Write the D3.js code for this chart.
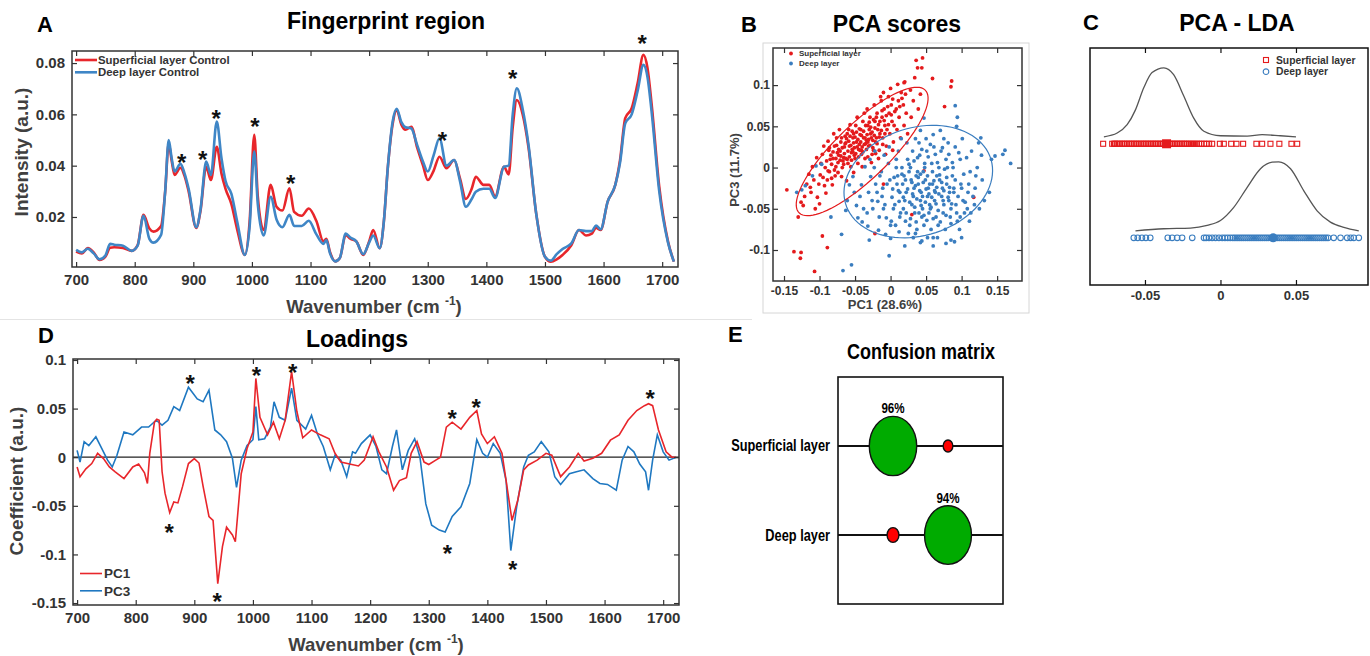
<!DOCTYPE html>
<html>
<head>
<meta charset="utf-8">
<title>Fingerprint region, PCA and confusion matrix</title>
<script src="https://cdn.jsdelivr.net/npm/d3@7"></script>
<style>
  body { margin: 0; background: #fff; }
  svg { display: block; font-family: "Liberation Sans", Arial, sans-serif; }
  .title { font-size: 23px; font-weight: bold; text-anchor: middle; fill: #000; }
  .letter { font-size: 22px; font-weight: bold; fill: #000; }
  .label { font-weight: bold; fill: #404040; text-anchor: middle; }
  .star { font-size: 24px; font-weight: bold; text-anchor: middle; fill: #111; }
  .narrow { font-weight: bold; fill: #000; }
</style>
</head>
<body>
<svg id="fig" width="1370" height="656"></svg>
<script>
// ---------- data ----------

// panel A: mean spectra (intensity, a.u.)
var wavenumbersA = [700,710,720,730,740,750,758,765,780,795,805,815,825,832,845,852,858,863,868,878,885,892,905,912,922,930,940,948,955,965,975,988,996,1004,1010,1020,1032,1042,1052,1064,1072,1085,1097,1110,1122,1127,1133,1142,1150,1160,1168,1178,1190,1200,1207,1218,1225,1232,1240,1247,1255,1262,1272,1282,1292,1300,1310,1320,1332,1345,1355,1365,1375,1382,1395,1405,1415,1430,1438,1445,1452,1462,1472,1485,1500,1510,1520,1530,1545,1558,1570,1580,1587,1595,1607,1620,1628,1637,1648,1658,1668,1675,1682,1695,1710,1720];
var superficialSpectrum = [0.0065,0.0058,0.0079,0.0062,0.0032,0.0045,0.0080,0.0082,0.0079,0.0068,0.0090,0.0208,0.0155,0.0143,0.0165,0.0300,0.0487,0.0420,0.0364,0.0392,0.0360,0.0300,0.0157,0.0220,0.0396,0.0344,0.0474,0.0370,0.0310,0.0250,0.0150,0.0052,0.0180,0.0520,0.0280,0.0149,0.0325,0.0240,0.0225,0.0312,0.0220,0.0205,0.0233,0.0184,0.0105,0.0115,0.0065,0.0027,0.0040,0.0130,0.0115,0.0105,0.0052,0.0105,0.0149,0.0078,0.0180,0.0396,0.0560,0.0617,0.0560,0.0540,0.0552,0.0470,0.0400,0.0344,0.0380,0.0435,0.0390,0.0422,0.0350,0.0270,0.0310,0.0357,0.0325,0.0325,0.0280,0.0396,0.0366,0.0550,0.0656,0.0600,0.0470,0.0214,0.0045,0.0026,0.0035,0.0052,0.0090,0.0149,0.0128,0.0135,0.0158,0.0149,0.0260,0.0325,0.0420,0.0585,0.0624,0.0720,0.0832,0.0780,0.0640,0.0318,0.0104,0.0026];
var deepSpectrum = [0.0072,0.0062,0.0076,0.0058,0.0035,0.0050,0.0095,0.0092,0.0088,0.0068,0.0088,0.0205,0.0115,0.0100,0.0130,0.0300,0.0500,0.0430,0.0377,0.0407,0.0370,0.0310,0.0160,0.0225,0.0416,0.0364,0.0572,0.0430,0.0340,0.0290,0.0180,0.0052,0.0160,0.0455,0.0250,0.0128,0.0279,0.0190,0.0160,0.0208,0.0165,0.0165,0.0185,0.0132,0.0095,0.0110,0.0060,0.0027,0.0040,0.0135,0.0120,0.0105,0.0055,0.0100,0.0128,0.0078,0.0180,0.0396,0.0570,0.0622,0.0570,0.0550,0.0545,0.0480,0.0415,0.0377,0.0440,0.0507,0.0400,0.0422,0.0340,0.0240,0.0270,0.0298,0.0310,0.0310,0.0274,0.0396,0.0400,0.0600,0.0702,0.0620,0.0480,0.0214,0.0045,0.0030,0.0055,0.0075,0.0097,0.0149,0.0145,0.0145,0.0167,0.0152,0.0260,0.0325,0.0410,0.0565,0.0600,0.0690,0.0793,0.0745,0.0610,0.0300,0.0100,0.0026];
var peakMarksA = [[880,0.0435],[916,0.0445],[939,0.0605],[1005,0.0574],[1066,0.0352],[1325,0.0520],[1445,0.0762],[1666,0.0899]];
var wavenumberTicks = [700,800,900,1000,1100,1200,1300,1400,1500,1600,1700];
var intensityTicks = [0.02,0.04,0.06,0.08];

// panel B: PCA scores [PC1, PC3]
var superficialScores = [
  [-0.121,-0.035],[-0.118,-0.02],[-0.123,-0.046],[-0.115,-0.008],
  [-0.112,-0.03],[-0.108,-0.015],[-0.11,0.001],[-0.106,-0.05],[-0.113,-0.024],[-0.104,0.012],
  [-0.101,-0.02],[-0.098,0.005],[-0.103,-0.036],[-0.096,0.016],[-0.099,-0.009],[-0.094,0.026],[-0.1,-0.044],
  [-0.092,0.0],[-0.089,-0.015],[-0.087,0.021],[-0.091,-0.031],[-0.085,0.01],[-0.088,0.032],[-0.086,-0.005],[-0.084,0.015],
  [-0.081,0.011],[-0.078,-0.01],[-0.079,0.026],[-0.076,0.036],[-0.082,-0.021],[-0.077,0.001],[-0.075,0.018],[-0.08,0.041],[-0.074,0.006],
  [-0.071,0.02],[-0.068,0.0],[-0.07,0.031],[-0.066,0.012],[-0.072,0.046],[-0.069,-0.011],[-0.065,0.025],[-0.067,0.008],[-0.064,0.038],[-0.073,0.015],
  [-0.061,0.01],[-0.058,0.026],[-0.062,0.035],[-0.056,0.001],[-0.059,0.046],[-0.055,0.018],[-0.063,0.03],[-0.057,0.052],[-0.06,0.005],[-0.054,0.022],[-0.062,-0.016],
  [-0.051,0.015],[-0.048,0.031],[-0.052,0.041],[-0.046,0.005],[-0.049,0.051],[-0.045,0.022],[-0.053,0.036],[-0.047,0.061],[-0.05,0.011],[-0.044,0.028],[-0.052,-0.006],
  [-0.041,0.021],[-0.038,0.036],[-0.042,0.046],[-0.036,0.011],[-0.039,0.056],[-0.035,0.029],[-0.043,0.04],[-0.037,0.066],[-0.04,0.001],[-0.034,0.033],[-0.041,0.016],
  [-0.031,0.026],[-0.028,0.041],[-0.032,0.051],[-0.026,0.016],[-0.029,0.061],[-0.025,0.033],[-0.033,0.071],[-0.027,0.006],[-0.03,0.046],[-0.024,0.021],[-0.032,0.031],
  [-0.021,0.031],[-0.018,0.046],[-0.022,0.056],[-0.016,0.021],[-0.019,0.066],[-0.015,0.041],[-0.023,0.076],[-0.017,0.011],[-0.02,0.036],[-0.014,0.086],
  [-0.011,0.036],[-0.008,0.051],[-0.012,0.061],[-0.006,0.026],[-0.009,0.071],[-0.005,0.046],[-0.013,0.081],[-0.007,0.016],[-0.01,0.091],
  [-0.001,0.041],[0.002,0.056],[-0.002,0.066],[0.004,0.031],[0.001,0.076],[0.005,0.051],[-0.003,0.086],[0.003,0.021],[0.0,0.096],
  [0.009,0.046],[0.012,0.061],[0.008,0.071],[0.014,0.036],[0.011,0.081],[0.015,0.091],[0.01,0.101],
  [0.019,0.051],[0.022,0.066],[0.018,0.076],[0.024,0.041],[0.021,0.089],[0.02,0.104],
  [0.029,0.061],[0.032,0.081],[0.028,0.094],[0.034,0.109],
  [0.039,0.071],[0.042,0.089],[0.038,0.121],
  [-0.095,-0.012],[-0.093,-0.022],[-0.09,0.008],[-0.088,-0.004],[-0.086,0.024],[-0.083,-0.013],[-0.083,0.004],[-0.081,0.019],[-0.079,-0.003],[-0.077,0.011],
  [-0.076,0.027],[-0.074,-0.006],[-0.073,0.022],[-0.071,0.009],[-0.07,0.014],[-0.069,0.036],[-0.068,0.024],[-0.066,0.004],[-0.065,0.017],[-0.064,0.029],
  [-0.063,0.011],[-0.061,0.041],[-0.06,0.02],[-0.059,0.032],[-0.058,0.013],[-0.057,0.038],[-0.056,0.027],[-0.055,0.009],[-0.054,0.044],[-0.053,0.019],
  [-0.052,0.03],[-0.051,0.024],[-0.05,0.037],[-0.049,0.017],[-0.048,0.043],[-0.047,0.025],[-0.046,0.034],[-0.045,0.013],[-0.044,0.047],[-0.043,0.021],
  [-0.042,0.031],[-0.041,0.039],[-0.04,0.025],[-0.039,0.019],[-0.038,0.044],[-0.037,0.028],[-0.036,0.036],[-0.035,0.051],[-0.034,0.022],[-0.033,0.04],
  [-0.032,0.013],[-0.031,0.034],[-0.03,0.055],[-0.029,0.027],[-0.028,0.049],[-0.027,0.036],[-0.026,0.043],[-0.025,0.024],[-0.024,0.058],[-0.023,0.039],
  [-0.022,0.048],[-0.021,0.017],[-0.02,0.061],[-0.019,0.029],[-0.017,0.052],[-0.016,0.037],[-0.015,0.056],[-0.013,0.045],[-0.012,0.069],[-0.011,0.028],
  [-0.009,0.057],[-0.008,0.041],[-0.006,0.063],[-0.004,0.074],[-0.003,0.052],[0.001,0.064],[0.003,0.083],[0.006,0.068],[0.013,0.074],[0.016,0.084],
  [0.036,0.13],[0.045,0.133],[0.044,0.121],[0.059,0.108],[0.086,0.105],[0.085,0.098],[0.076,0.074],[0.019,0.103],
  [-0.146,-0.027],[-0.136,-0.102],[-0.126,-0.103],[-0.127,-0.11],[-0.107,-0.126],[-0.089,-0.097],[-0.096,-0.083],[-0.126,-0.042],
  [0.117,-0.036],[0.03,-0.057],[-0.022,-0.08],[0.047,-0.004],[-0.01,-0.02],[-0.13,-0.06]
];
var deepScores = [
  [-0.061,-0.04],[-0.058,-0.021],[-0.063,-0.052],
  [-0.051,-0.03],[-0.048,-0.046],[-0.053,-0.011],[-0.046,-0.061],
  [-0.041,-0.021],[-0.038,-0.05],[-0.043,-0.035],[-0.036,0.001],[-0.04,-0.066],
  [-0.031,-0.03],[-0.028,-0.011],[-0.033,-0.055],[-0.026,-0.04],[-0.029,0.01],[-0.032,-0.071],
  [-0.021,-0.02],[-0.018,-0.041],[-0.023,0.0],[-0.016,-0.06],[-0.019,-0.03],[-0.022,0.02],[-0.017,-0.076],
  [-0.011,-0.025],[-0.008,-0.045],[-0.013,-0.005],[-0.006,-0.061],[-0.009,0.015],[-0.012,-0.035],[-0.007,-0.081],
  [-0.001,-0.015],[0.002,-0.036],[-0.003,0.005],[0.004,-0.05],[0.001,-0.065],[-0.002,0.025],[0.003,-0.026],[0.0,-0.086],
  [0.009,-0.02],[0.012,-0.041],[0.008,0.0],[0.014,-0.055],[0.011,0.02],[0.007,-0.07],[0.013,-0.03],[0.01,-0.01],[0.015,0.035],
  [0.019,-0.01],[0.022,-0.03],[0.018,-0.05],[0.024,0.01],[0.021,-0.065],[0.017,-0.02],[0.023,0.03],[0.02,-0.04],[0.025,-0.08],[0.016,0.0],
  [0.029,-0.015],[0.032,-0.035],[0.028,0.0],[0.034,-0.055],[0.031,0.02],[0.027,-0.07],[0.033,-0.025],[0.03,-0.045],[0.035,0.035],[0.026,-0.005],[0.032,-0.085],
  [0.039,-0.02],[0.042,-0.04],[0.038,-0.005],[0.044,-0.06],[0.041,0.015],[0.037,-0.075],[0.043,-0.03],[0.04,0.03],[0.045,-0.05],[0.036,-0.01],[0.042,0.045],
  [0.049,-0.015],[0.052,-0.035],[0.048,0.0],[0.054,-0.055],[0.051,0.02],[0.047,-0.07],[0.053,-0.025],[0.05,0.035],[0.055,-0.045],[0.046,-0.005],[0.052,-0.085],
  [0.059,-0.02],[0.062,-0.04],[0.058,0.005],[0.064,-0.06],[0.061,0.025],[0.057,-0.075],[0.063,-0.03],[0.06,0.04],[0.065,-0.01],[0.056,-0.05],
  [0.069,-0.015],[0.072,-0.035],[0.068,0.0],[0.074,-0.055],[0.071,0.02],[0.067,-0.07],[0.073,-0.025],[0.07,0.045],[0.075,-0.045],[0.066,-0.085],
  [0.079,-0.02],[0.082,-0.04],[0.078,0.01],[0.084,-0.06],[0.081,0.03],[0.077,-0.075],[0.083,-0.03],[0.08,0.0],[0.085,-0.05],
  [0.089,-0.025],[0.092,-0.045],[0.088,0.0],[0.094,-0.065],[0.091,0.025],[0.087,-0.01],[0.093,0.05],[0.09,-0.09],
  [0.099,-0.02],[0.102,-0.04],[0.098,0.01],[0.104,-0.055],[0.101,0.035],[0.097,-0.075],
  [0.109,-0.03],[0.112,-0.005],[0.108,-0.05],[0.114,0.02],[0.111,-0.065],
  [0.119,-0.025],[0.122,0.0],[0.118,-0.045],[0.124,0.03],
  [0.129,-0.015],[0.132,-0.04],[0.128,0.015],[0.127,0.036],
  [0.139,-0.03],[0.142,0.01],[0.147,0.014],
  [0.005,-0.012],[0.006,-0.045],[0.011,-0.028],[0.013,-0.06],[0.016,-0.008],[0.018,-0.036],[0.021,-0.015],[0.022,-0.055],[0.024,-0.026],[0.026,0.004],
  [0.027,-0.042],[0.028,-0.062],[0.03,-0.018],[0.031,-0.032],[0.033,0.008],[0.034,-0.048],[0.035,-0.022],[0.036,-0.066],[0.037,-0.038],[0.038,0.012],
  [0.039,-0.012],[0.04,-0.055],[0.041,-0.028],[0.042,-0.008],[0.043,-0.046],[0.044,0.022],[0.045,-0.035],[0.046,-0.018],[0.047,-0.058],[0.048,0.005],
  [0.049,-0.042],[0.05,-0.026],[0.051,-0.064],[0.052,-0.01],[0.053,0.013],[0.054,-0.032],[0.055,-0.02],[0.056,0.028],[0.057,-0.048],[0.058,-0.036],
  [0.059,-0.005],[0.06,-0.062],[0.061,-0.016],[0.062,-0.028],[0.063,0.016],[0.064,-0.044],[0.065,-0.024],[0.066,0.006],[0.067,-0.052],[0.068,-0.032],
  [0.069,-0.009],[0.07,-0.066],[0.072,-0.018],[0.073,0.024],[0.074,-0.04],[0.075,-0.028],[0.076,-0.002],[0.078,-0.058],[0.079,-0.012],[0.081,-0.036],
  [0.082,0.016],[0.083,-0.024],[0.085,-0.068],[0.086,-0.044],[0.087,0.006],[0.089,-0.03],[0.091,-0.015],[0.093,-0.055],[0.095,-0.035],[0.096,0.018],
  [0.098,-0.06],[0.1,-0.025],[0.103,-0.008],[0.105,-0.042],[0.107,0.012],[0.11,-0.02],[0.113,-0.055],[0.116,-0.035],[0.12,-0.01],[0.125,-0.05],
  [-0.005,-0.02],[-0.01,-0.05],[0.0,-0.07],[-0.015,-0.01],[-0.025,-0.05],[0.008,0.01],[0.012,-0.078],[0.035,-0.08],[0.06,-0.085],[0.075,0.035],
  [0.169,0.005],[0.161,0.021],[0.158,0.016],[0.091,0.075],[0.094,0.061],[0.047,0.06],[-0.067,-0.125],[-0.055,-0.118],[-0.002,-0.107],[-0.069,-0.081],
  [-0.084,-0.06],[-0.125,-0.027],[-0.132,-0.03],[-0.097,0.004],[0.044,-0.089],[0.078,-0.092],[0.042,-0.091],[0.085,-0.088],[-0.03,-0.088],[0.02,-0.095],
  [0.06,-0.095],[0.1,-0.085],[-0.11,-0.01],[-0.12,-0.022],[-0.105,0.002]
];
// confidence ellipses: [centre PC1, centre PC3, semi-major, semi-minor, angle in degrees]
var superficialEllipse = [-0.040, 0.0195, 0.116, 0.035, 39];
var deepEllipse = [0.039, -0.017, 0.106, 0.066, 12];
var pc1Ticks = [-0.15,-0.1,-0.05,0,0.05,0.1,0.15];
var pc3Ticks = [-0.1,-0.05,0,0.05,0.1];

// panel C: PCA-LDA scores
var ldaGroups = ["Superficial layer", "Deep layer"];
var superficialLda = [-0.0777,-0.0717,-0.0705,-0.0698,-0.0688,-0.0676,-0.0665,-0.0652,-0.0641,-0.063,-0.0618,-0.0606,-0.0595,-0.0584,-0.0572,-0.0561,-0.055,-0.0538,-0.0527,-0.0515,-0.0504,-0.0493,-0.0482,-0.047,-0.0459,-0.0448,-0.0436,-0.0425,-0.0414,-0.0402,-0.0391,-0.038,-0.0369,-0.0357,-0.0346,-0.0334,-0.0323,-0.0312,-0.03,-0.0289,-0.0278,-0.0266,-0.0255,-0.0243,-0.0232,-0.022,-0.0208,-0.0195,-0.0182,-0.017,-0.0156,-0.0141,-0.0126,-0.0109,-0.0093,-0.0075,-0.0055,-0.0004,0.0022,0.0071,0.0106,0.015,0.0238,0.0276,0.0331,0.039,0.047,0.0508];
var deepLda = [-0.0574,-0.0548,-0.052,-0.0494,-0.0465,-0.0349,-0.032,-0.0287,-0.0254,-0.0187,-0.0109,-0.0095,-0.0076,-0.0055,-0.0033,-0.001,0.0012,0.003,0.0048,0.0065,0.0082,0.0096,0.011,0.0124,0.0138,0.0152,0.0166,0.018,0.0194,0.0208,0.0222,0.0236,0.025,0.0264,0.0278,0.0292,0.0306,0.032,0.0334,0.0348,0.0362,0.0376,0.039,0.0404,0.0418,0.0432,0.0446,0.046,0.0474,0.0488,0.0502,0.0516,0.053,0.0544,0.0558,0.0572,0.0586,0.06,0.0614,0.0628,0.0642,0.0656,0.067,0.0684,0.0698,0.0712,0.075,0.0795,0.0839,0.0862,0.0883,0.0916];
var ldaMedians = [-0.0357, 0.0349];
// relative density [score, density / peak]
var superficialDensity = [[-0.0772,0],[-0.0684,0.054],[-0.0618,0.175],[-0.0563,0.39],[-0.0508,0.71],[-0.0453,0.93],[-0.0375,1.0],[-0.031,0.9],[-0.0243,0.59],[-0.0177,0.27],[-0.011,0.08],[0,0.015],[0.0177,0.01],[0.0276,0.03],[0.0397,0.015],[0.05,0]];
var deepDensity = [[-0.0563,0],[-0.0375,0.03],[-0.0199,0.04],[-0.0088,0.08],[0,0.15],[0.0088,0.34],[0.0177,0.63],[0.0265,0.9],[0.0342,0.995],[0.0386,1.0],[0.0464,0.9],[0.0552,0.58],[0.064,0.29],[0.0728,0.126],[0.0817,0.05],[0.0916,0]];
var ldaTicks = [-0.05, 0, 0.05];

// panel D: loadings [wavenumber, coefficient]
var pc1Loadings = [[700,-0.010],[705,-0.020],[715,-0.012],[725,-0.0065],[735,0.004],[745,-0.0014],[755,-0.010],[765,-0.015],[780,-0.022],[795,-0.010],[805,-0.007],[815,-0.016],[820,-0.027],[824,0.004],[832,0.036],[836,0.039],[840,0.038],[845,-0.015],[850,-0.037],[858,-0.057],[865,-0.046],[872,-0.047],[880,-0.030],[890,-0.0065],[900,-0.0014],[908,-0.006],[915,-0.030],[925,-0.061],[932,-0.065],[940,-0.130],[948,-0.092],[955,-0.072],[965,-0.080],[970,-0.087],[980,-0.017],[990,0.009],[1000,0.026],[1005,0.081],[1012,0.041],[1025,0.023],[1035,0.036],[1045,0.019],[1055,0.038],[1066,0.088],[1075,0.047],[1085,0.020],[1100,0.028],[1115,0.023],[1130,0.019],[1140,0.004],[1150,-0.005],[1165,-0.007],[1180,-0.009],[1190,-0.003],[1205,0.021],[1215,0.0055],[1228,-0.010],[1240,-0.034],[1250,-0.024],[1262,-0.021],[1270,0.004],[1280,0.016],[1292,-0.005],[1300,-0.0075],[1312,-0.003],[1320,0.000],[1330,0.031],[1340,0.036],[1355,0.029],[1370,0.041],[1382,0.048],[1390,0.024],[1400,0.014],[1412,0.021],[1425,0.004],[1432,-0.024],[1442,-0.065],[1452,-0.044],[1462,-0.013],[1470,-0.008],[1485,-0.003],[1500,0.004],[1510,0.002],[1525,-0.020],[1540,-0.010],[1555,0.004],[1565,-0.004],[1580,-0.001],[1595,0.004],[1610,0.0175],[1625,0.023],[1640,0.038],[1655,0.048],[1668,0.053],[1675,0.055],[1682,0.053],[1692,0.028],[1705,0.0055],[1715,0.000],[1722,0.000]];
var pc3Loadings = [[700,0.007],[705,-0.005],[712,0.016],[720,0.012],[732,0.021],[742,0.009],[752,-0.003],[760,-0.010],[768,0.002],[780,0.026],[795,0.023],[810,0.031],[822,0.031],[835,0.038],[845,0.033],[855,0.038],[865,0.052],[875,0.048],[890,0.072],[905,0.060],[915,0.057],[925,0.069],[935,0.028],[945,0.023],[955,0.016],[965,-0.001],[972,-0.031],[980,-0.003],[990,0.012],[1000,0.018],[1005,0.052],[1010,0.018],[1020,0.019],[1030,0.031],[1036,0.057],[1045,0.041],[1055,0.038],[1066,0.071],[1075,0.038],[1090,0.029],[1100,0.043],[1110,0.024],[1120,0.011],[1132,-0.013],[1140,0.002],[1150,-0.003],[1160,-0.020],[1170,0.0055],[1175,0.004],[1185,0.014],[1200,0.023],[1210,0.011],[1220,-0.013],[1228,-0.017],[1238,0.011],[1245,0.028],[1255,-0.013],[1265,0.007],[1276,0.019],[1285,0.000],[1295,-0.048],[1305,-0.070],[1318,-0.075],[1328,-0.077],[1340,-0.061],[1355,-0.051],[1370,-0.027],[1382,0.018],[1392,0.004],[1400,0.000],[1410,0.014],[1422,0.004],[1432,-0.024],[1440,-0.096],[1450,-0.051],[1462,-0.010],[1470,0.002],[1480,0.0055],[1492,0.016],[1505,0.0055],[1515,-0.020],[1525,-0.028],[1540,-0.017],[1552,-0.015],[1565,-0.013],[1580,-0.022],[1592,-0.027],[1605,-0.028],[1620,-0.034],[1630,-0.003],[1640,0.011],[1650,0.0055],[1660,-0.007],[1670,-0.015],[1675,-0.034],[1682,-0.003],[1690,0.023],[1700,0.0055],[1710,-0.003],[1722,0.000]];
var peakMarksD = [[893,0.0812],[1006,0.0897],[1068,0.0931],[857,-0.0715],[939,-0.1427],[1340,0.0452],[1381,0.0571],[1332,-0.0937],[1443,-0.1101],[1678,0.0663]];
var coefficientTicks = [-0.15,-0.1,-0.05,0,0.05,0.1];

// panel E: confusion matrix (% of true class)
var cmClasses = ["Superficial layer", "Deep layer"];
var cmValues = [[96, 4], [6, 94]];

// ---------- colours ----------
var red = "#e8262b";
var blueA = "#3f86c6";
var blueD = "#1f78c1";
var redPts = "#e41a1c";
var bluePts = "#3a7dbf";

var svg = d3.select("#fig");

// MATLAB style box with inward ticks on all sides
function boxAxes(g, x, y, xTicks, yTicks, xFmt, yFmt, fontSize, pad, ypad, frameColor) {
    var xr = x.range(), yr = y.range();
    g.append("g")
        .attr("transform", "translate(0," + yr[0] + ")")
        .call(d3.axisBottom(x).tickValues(xTicks).tickFormat(xFmt).tickSize(-5).tickPadding(pad));
    g.append("g")
        .attr("transform", "translate(0," + yr[1] + ")")
        .call(d3.axisTop(x).tickValues(xTicks).tickFormat("").tickSize(-5));
    if (yTicks) {
        g.append("g")
            .attr("transform", "translate(" + xr[0] + ",0)")
            .call(d3.axisLeft(y).tickValues(yTicks).tickFormat(yFmt).tickSize(-5).tickPadding(ypad));
        g.append("g")
            .attr("transform", "translate(" + xr[1] + ",0)")
            .call(d3.axisRight(y).tickValues(yTicks).tickFormat("").tickSize(-5));
    }
    g.selectAll(".domain").remove();
    g.selectAll(".tick line").attr("stroke", frameColor).attr("stroke-width", 1.2);
    g.selectAll(".tick text")
        .attr("fill", "#333")
        .style("font-family", "'Liberation Sans', Arial, sans-serif")
        .style("font-size", fontSize + "px")
        .style("font-weight", "bold");
    g.append("rect")
        .attr("x", xr[0]).attr("y", yr[1])
        .attr("width", xr[1] - xr[0]).attr("height", yr[0] - yr[1])
        .attr("fill", "none")
        .attr("stroke", frameColor)
        .attr("stroke-width", 1.5);
}

function plainNum(d) { return String(d); }

function wavenumberLabel(x, y) {
    var t = svg.append("text").attr("class", "label")
        .attr("x", x).attr("y", y).style("font-size", "18.5px");
    t.append("tspan").text("Wavenumber (cm ");
    t.append("tspan").attr("dy", -8).style("font-size", "12px").text("-1");
    t.append("tspan").attr("dy", 8).text(")");
}

function panelText(cls, x, y, txt) {
    return svg.append("text").attr("class", cls).attr("x", x).attr("y", y).text(txt);
}

// condensed bold text (the original uses a narrow face)
function narrowText(parent, x, y, txt, size, anchor) {
    return parent.append("g")
        .attr("transform", "translate(" + x + "," + y + ") scale(0.8,1)")
        .append("text").attr("class", "narrow")
        .attr("text-anchor", anchor)
        .style("font-size", size + "px")
        .text(txt);
}

// separator line under the top row
svg.append("line")
    .attr("x1", 0).attr("x2", 752)
    .attr("y1", 319.5).attr("y2", 319.5)
    .attr("stroke", "#e4e4e4");

// ---------- panel A ----------
var xA = d3.scaleLinear().domain([693, 1727]).range([72, 678]);
var yA = d3.scaleLinear().domain([0.0005, 0.0847]).range([267, 51]);
var gA = svg.append("g");

var lineA = d3.line()
    .x(function(d, i) { return xA(wavenumbersA[i]); })
    .y(function(d) { return yA(d); })
    .curve(d3.curveMonotoneX);

gA.append("path").attr("d", lineA(superficialSpectrum))
    .attr("fill", "none").attr("stroke", red).attr("stroke-width", 2.6);
gA.append("path").attr("d", lineA(deepSpectrum))
    .attr("fill", "none").attr("stroke", blueA).attr("stroke-width", 2.6);

gA.selectAll(".star").data(peakMarksA).enter()
    .append("text").attr("class", "star")
    .attr("x", function(d) { return xA(d[0]); })
    .attr("y", function(d) { return yA(d[1]); })
    .attr("dy", "0.58em")
    .text("*");

boxAxes(gA.append("g"), xA, yA, wavenumberTicks, intensityTicks, d3.format("d"), d3.format(".2f"), 15, 7, 7, "#333");

// legend A
var legendA = gA.append("g").selectAll("g")
    .data([["Superficial layer Control", red], ["Deep layer Control", blueA]])
    .enter().append("g")
    .attr("transform", function(d, i) { return "translate(75," + (60 + i * 12.3) + ")"; });
legendA.append("line").attr("x1", 0).attr("x2", 22)
    .attr("stroke", function(d) { return d[1]; }).attr("stroke-width", 2.6);
legendA.append("text").attr("x", 23).attr("dy", "0.35em")
    .style("font-size", "11.4px").style("font-weight", "bold").attr("fill", "#333")
    .text(function(d) { return d[0]; });

panelText("letter", 37, 32, "A");
panelText("title", 386, 29, "Fingerprint region");
svg.append("text").attr("class", "label")
    .attr("transform", "translate(28,152) rotate(-90)")
    .style("font-size", "19px").text("Intensity (a.u.)");
wavenumberLabel(374, 313);

// ---------- panel B ----------
var xB = d3.scaleLinear().domain([-0.1655, 0.185]).range([773, 1022]);
var yB = d3.scaleLinear().domain([-0.1376, 0.145]).range([281, 48]);
var gB = svg.append("g");

gB.append("rect").attr("x", 763).attr("y", 43).attr("width", 266).attr("height", 270)
    .attr("fill", "none").attr("stroke", "#d6d6d6");

function ellipsePath(e) {
    var a = e[4] * Math.PI / 180, pts = d3.range(0, 361, 4).map(function(t) {
        var r = t * Math.PI / 180;
        var u = e[2] * Math.cos(r), v = e[3] * Math.sin(r);
        return [e[0] + u * Math.cos(a) - v * Math.sin(a), e[1] + u * Math.sin(a) + v * Math.cos(a)];
    });
    return d3.line().x(function(d) { return xB(d[0]); }).y(function(d) { return yB(d[1]); })(pts);
}

gB.selectAll(".sup").data(superficialScores).enter()
    .append("circle").attr("class", "sup")
    .attr("cx", function(d) { return xB(d[0]); })
    .attr("cy", function(d) { return yB(d[1]); })
    .attr("r", 1.9).attr("fill", redPts);
gB.selectAll(".deep").data(deepScores).enter()
    .append("circle").attr("class", "deep")
    .attr("cx", function(d) { return xB(d[0]); })
    .attr("cy", function(d) { return yB(d[1]); })
    .attr("r", 1.9).attr("fill", bluePts);

gB.append("path").attr("d", ellipsePath(superficialEllipse))
    .attr("fill", "none").attr("stroke", redPts).attr("stroke-width", 1.2);
gB.append("path").attr("d", ellipsePath(deepEllipse))
    .attr("fill", "none").attr("stroke", bluePts).attr("stroke-width", 1.2);

boxAxes(gB.append("g"), xB, yB, pc1Ticks, pc3Ticks, plainNum, plainNum, 12, 5, 3, "#333");

var legendB = gB.append("g").selectAll("g")
    .data([["Superficial layer", redPts], ["Deep layer", bluePts]])
    .enter().append("g")
    .attr("transform", function(d, i) { return "translate(791," + (53.5 + i * 10) + ")"; });
legendB.append("circle").attr("r", 1.9).attr("fill", function(d) { return d[1]; });
legendB.append("text").attr("x", 8).attr("dy", "0.35em")
    .style("font-size", "8px").style("font-weight", "bold").attr("fill", "#333")
    .text(function(d) { return d[0]; });

panelText("letter", 741, 32, "B");
panelText("title", 897, 32, "PCA scores");
svg.append("text").attr("class", "label").attr("x", 885).attr("y", 309)
    .style("font-size", "13px").attr("fill", "#333").text("PC1 (28.6%)");
svg.append("text").attr("class", "label")
    .attr("transform", "translate(739,170) rotate(-90)")
    .style("font-size", "13px").text("PC3 (11.7%)");

// ---------- panel C ----------
var xC = d3.scaleLinear().domain([-0.0864, 0.0977]).range([1090, 1368]);
var frameC = d3.scaleLinear().range([285, 48]);
var rowC = d3.scalePoint().domain(ldaGroups).range([48, 285]).padding(0.76).align(0.67);
var hC = d3.scaleLinear().domain([0, 1]).range([0, 69]);
var gC = svg.append("g");

var densityLine = function(row) {
    return d3.line()
        .x(function(d) { return xC(d[0]); })
        .y(function(d) { return rowC(row) - 7 - hC(d[1]); })
        .curve(d3.curveMonotoneX);
};
gC.append("path").attr("d", densityLine(ldaGroups[0])(superficialDensity))
    .attr("fill", "none").attr("stroke", "#555").attr("stroke-width", 1.3);
gC.append("path").attr("d", densityLine(ldaGroups[1])(deepDensity))
    .attr("fill", "none").attr("stroke", "#555").attr("stroke-width", 1.3);

gC.selectAll(".sq").data(superficialLda).enter()
    .append("rect").attr("class", "sq")
    .attr("x", function(d) { return xC(d) - 2.5; })
    .attr("y", rowC(ldaGroups[0]) - 2.5)
    .attr("width", 5).attr("height", 5)
    .attr("fill", "none").attr("stroke", redPts).attr("stroke-width", 1.1);
gC.append("rect")
    .attr("x", xC(ldaMedians[0]) - 4.5).attr("y", rowC(ldaGroups[0]) - 4.5)
    .attr("width", 9).attr("height", 9).attr("fill", redPts);

gC.selectAll(".ci").data(deepLda).enter()
    .append("circle").attr("class", "ci")
    .attr("cx", function(d) { return xC(d); })
    .attr("cy", rowC(ldaGroups[1]))
    .attr("r", 2.8)
    .attr("fill", "none").attr("stroke", bluePts).attr("stroke-width", 1.1);
gC.append("circle")
    .attr("cx", xC(ldaMedians[1])).attr("cy", rowC(ldaGroups[1]))
    .attr("r", 4.5).attr("fill", bluePts);

boxAxes(gC.append("g"), xC, frameC, ldaTicks, null, plainNum, null, 13, 6, 6, "#111");

var legendC = gC.append("g").selectAll("g")
    .data(ldaGroups)
    .enter().append("g")
    .attr("transform", function(d, i) { return "translate(1266," + (60 + i * 11.7) + ")"; });
legendC.filter(function(d, i) { return i === 0; }).append("rect")
    .attr("x", -2.5).attr("y", -2.5).attr("width", 5).attr("height", 5)
    .attr("fill", "none").attr("stroke", redPts).attr("stroke-width", 1.1);
legendC.filter(function(d, i) { return i === 1; }).append("circle")
    .attr("r", 2.8).attr("fill", "none").attr("stroke", bluePts).attr("stroke-width", 1.1);
legendC.append("text").attr("x", 10).attr("dy", "0.35em")
    .style("font-size", "10.3px").style("font-weight", "bold").attr("fill", "#333")
    .text(function(d) { return d; });

panelText("letter", 1083, 30, "C");
panelText("title", 1237, 31, "PCA - LDA");

// ---------- panel D ----------
var xD = d3.scaleLinear().domain([693, 1727]).range([73, 679]);
var yD = d3.scaleLinear().domain([-0.152, 0.101]).range([605, 359]);
var gD = svg.append("g");

gD.append("line")
    .attr("x1", xD.range()[0]).attr("x2", xD.range()[1])
    .attr("y1", yD(0)).attr("y2", yD(0))
    .attr("stroke", "#222").attr("stroke-width", 1.3);

var lineD = d3.line()
    .x(function(d) { return xD(d[0]); })
    .y(function(d) { return yD(d[1]); });
gD.append("path").attr("d", lineD(pc3Loadings))
    .attr("fill", "none").attr("stroke", blueD).attr("stroke-width", 1.6);
gD.append("path").attr("d", lineD(pc1Loadings))
    .attr("fill", "none").attr("stroke", red).attr("stroke-width", 1.6);

gD.selectAll(".star").data(peakMarksD).enter()
    .append("text").attr("class", "star")
    .attr("x", function(d) { return xD(d[0]); })
    .attr("y", function(d) { return yD(d[1]); })
    .attr("dy", "0.58em")
    .text("*");

boxAxes(gD.append("g"), xD, yD, wavenumberTicks, coefficientTicks, d3.format("d"), plainNum, 15, 7, 7, "#333");

var legendD = gD.append("g").selectAll("g")
    .data([["PC1", red], ["PC3", blueD]])
    .enter().append("g")
    .attr("transform", function(d, i) { return "translate(80," + (573.5 + i * 17.3) + ")"; });
legendD.append("line").attr("x1", 0).attr("x2", 22)
    .attr("stroke", function(d) { return d[1]; }).attr("stroke-width", 1.6);
legendD.append("text").attr("x", 24).attr("dy", "0.35em")
    .style("font-size", "13.5px").style("font-weight", "bold").attr("fill", "#333")
    .text(function(d) { return d[0]; });

panelText("letter", 38, 343, "D");
panelText("title", 357, 347, "Loadings");
svg.append("text").attr("class", "label")
    .attr("transform", "translate(23,481) rotate(-90)")
    .style("font-size", "19px").text("Coefficient (a.u.)");
wavenumberLabel(376, 651);

// ---------- panel E ----------
var xE = d3.scalePoint().domain(cmClasses).range([838, 1003]).padding(1);
var yE = d3.scalePoint().domain(cmClasses).range([377, 604]).padding(0.775);
var rE = d3.scaleSqrt().domain([0, 100]).range([0, 27.5]);
var gE = svg.append("g");

gE.append("rect").attr("x", 838).attr("y", 377).attr("width", 165).attr("height", 227)
    .attr("fill", "none").attr("stroke", "#111").attr("stroke-width", 1.6);

gE.selectAll(".row").data(cmClasses).enter()
    .append("line").attr("class", "row")
    .attr("x1", 838).attr("x2", 1003)
    .attr("y1", function(d) { return yE(d); })
    .attr("y2", function(d) { return yE(d); })
    .attr("stroke", "#111").attr("stroke-width", 2);

var cells = [];
cmValues.forEach(function(row, i) {
    row.forEach(function(v, j) { cells.push({ truth: cmClasses[i], pred: cmClasses[j], value: v, hit: i === j }); });
});

gE.selectAll(".cell").data(cells).enter()
    .append("ellipse").attr("class", "cell")
    .attr("cx", function(d) { return xE(d.pred); })
    .attr("cy", function(d) { return yE(d.truth); })
    .attr("rx", function(d) { return rE(d.value) * 0.88; })
    .attr("ry", function(d) { return rE(d.value) * 1.1; })
    .attr("fill", function(d) { return d.hit ? "#00ab00" : "#ff0000"; })
    .attr("stroke", "#111").attr("stroke-width", 1.4);

cells.filter(function(d) { return d.hit; }).forEach(function(d) {
    narrowText(gE, xE(d.pred), yE(d.truth) - rE(d.value) * 1.1 - 3, d.value + "%", 14.5, "middle");
});

cmClasses.forEach(function(c) {
    narrowText(gE, 830, yE(c) + 5.5, c, 16, "end");
});

panelText("letter", 728, 342, "E");
narrowText(svg, 921, 359, "Confusion matrix", 22.5, "middle");
</script>
</body>
</html>
